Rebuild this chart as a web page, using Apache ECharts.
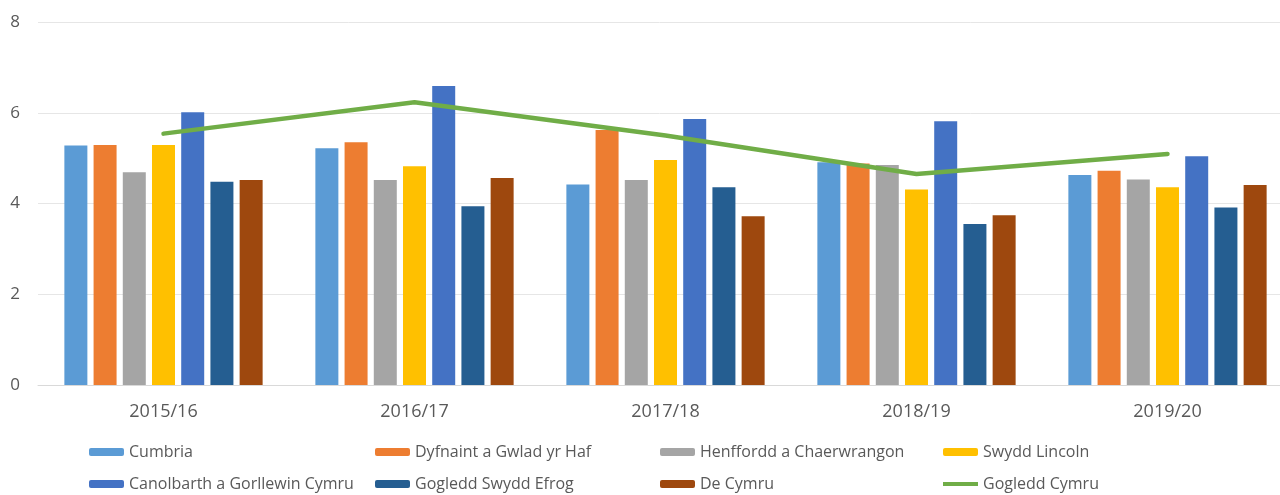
<!DOCTYPE html>
<html>
<head>
<meta charset="utf-8">
<script src="https://cdn.jsdelivr.net/npm/echarts@6/dist/echarts.min.js"></script>
<style>
  html, body { margin: 0; padding: 0; background: #fff; }
  #chart { width: 1280px; height: 495px; }
</style>
</head>
<body>
<div id="chart"></div>
<script>
const years = ['2015/16', '2016/17', '2017/18', '2018/19', '2019/20']
const yTicks = [0, 2, 4, 6, 8]

const cumbria = [5.28, 5.22, 4.42, 4.91, 4.63]
const dyfnaint = [5.29, 5.35, 5.62, 4.88, 4.72]
const henffordd = [4.69, 4.52, 4.52, 4.85, 4.53]
const swyddLincoln = [5.29, 4.82, 4.96, 4.31, 4.36]
const canolbarth = [6.01, 6.59, 5.86, 5.81, 5.04]
const gogleddSwyddEfrog = [4.48, 3.94, 4.36, 3.55, 3.91]
const deCymru = [4.52, 4.56, 3.72, 3.74, 4.41]
const gogleddCymru = [5.54, 6.23, 5.5, 4.65, 5.09]

const barSeries = [
  { name: 'Cumbria', data: cumbria, color: '#5B9BD5' },
  { name: 'Dyfnaint a Gwlad yr Haf', data: dyfnaint, color: '#ED7D31' },
  { name: 'Henffordd a Chaerwrangon', data: henffordd, color: '#A5A5A5' },
  { name: 'Swydd Lincoln', data: swyddLincoln, color: '#FFC000' },
  { name: 'Canolbarth a Gorllewin Cymru', data: canolbarth, color: '#4472C4' },
  { name: 'Gogledd Swydd Efrog', data: gogleddSwyddEfrog, color: '#255E91' },
  { name: 'De Cymru', data: deCymru, color: '#9E480E' },
]

const font = '"Open Sans", "Noto Sans", sans-serif'
const textColor = '#595959'

// legend: 4 columns x 2 rows, the line entry gets its own thin icon
const legendBlocks = [
  { left: 89, top: 444, h: 8, data: ['Cumbria', 'Canolbarth a Gorllewin Cymru'] },
  { left: 375, top: 444, h: 8, data: ['Dyfnaint a Gwlad yr Haf', 'Gogledd Swydd Efrog'] },
  { left: 660, top: 444, h: 8, data: ['Henffordd a Chaerwrangon', 'De Cymru'] },
  { left: 943, top: 444, h: 8, data: ['Swydd Lincoln'] },
  { left: 943, top: 476, h: 4, data: [{ name: 'Gogledd Cymru', icon: 'rect' }] },
]

const chart = echarts.init(document.getElementById('chart'))
const option = {
  animation: false,
  textStyle: { fontFamily: font },
  grid: { left: 38, top: 22, width: 1255, bottom: 110, outerBoundsMode: 'none', containLabel: false },
  legend: legendBlocks.map((c) => ({
    orient: 'vertical',
    left: c.left,
    top: c.top,
    itemWidth: 35,
    itemHeight: c.h,
    itemGap: 16,
    padding: 0,
    selectedMode: false,
    data: c.data,
    textStyle: { fontFamily: font, fontSize: 16, color: textColor, lineHeight: 16 },
  })),
  xAxis: {
    type: 'category',
    data: years,
    axisTick: { show: false },
    axisLine: { lineStyle: { color: '#D9D9D9', width: 1 } },
    axisLabel: { fontFamily: font, fontSize: 18, color: textColor, margin: 18 },
  },
  yAxis: {
    type: 'value',
    min: yTicks[0],
    max: yTicks[yTicks.length - 1],
    interval: 2,
    axisLine: { show: false },
    axisTick: { show: false },
    splitLine: { lineStyle: { color: '#E6E6E6', width: 1 } },
    axisLabel: { fontFamily: font, fontSize: 17, color: textColor, margin: 18 },
  },
  series: [
    ...barSeries.map((s) => ({
      name: s.name,
      type: 'bar',
      data: s.data,
      barWidth: 23,
      barGap: '27%',
      itemStyle: { color: s.color },
    })),
    {
      name: 'Gogledd Cymru',
      type: 'line',
      data: gogleddCymru,
      symbol: 'none',
      z: 5,
      itemStyle: { color: '#70AD47' },
      lineStyle: { color: '#70AD47', width: 4.5, cap: 'round', join: 'round' },
    },
  ],
}
chart.setOption(option)
</script>
</body>
</html>
